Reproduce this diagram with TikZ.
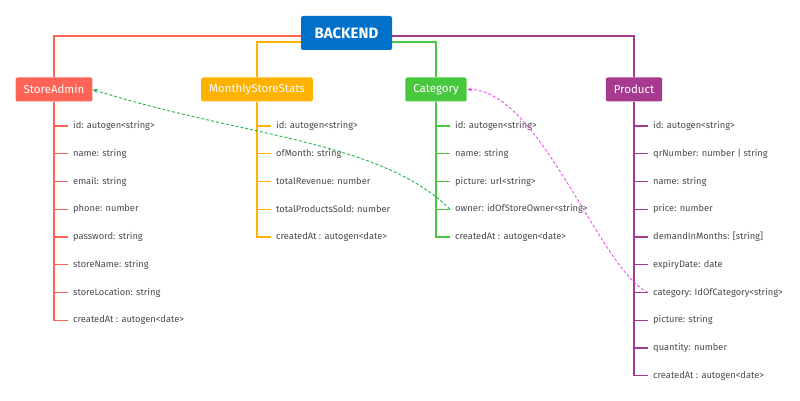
\documentclass[tikz,border=0pt]{standalone}
\usepackage{fontspec}
\setmainfont{Fira Sans}
\usetikzlibrary{positioning, arrows.meta}

\definecolor{backblue}{HTML}{0070C9}
\definecolor{adminred}{HTML}{FF6355}
\definecolor{statsorange}{HTML}{FFB300}
\definecolor{catgreen}{HTML}{47C83E}
\definecolor{prodpurple}{HTML}{A53A8E}
\definecolor{ownergreen}{HTML}{22B24C}
\definecolor{catmagenta}{HTML}{EE4FEE}
\definecolor{textgray}{HTML}{4A4A4A}

\begin{document}
\begin{tikzpicture}[
    x=1pt, y=-1pt,
    entity/.style={rectangle, rounded corners=2pt, minimum height=24pt,
        inner xsep=8pt, text=white, font=\fontsize{11.5}{13}\selectfont},
    field/.style={anchor=west, inner xsep=5pt, inner ysep=1pt, text=textgray,
        font=\fontsize{9.3}{11}\selectfont},
    branch/.style={line width=1.4pt},
    link/.style={dash pattern=on 3pt off 2pt, line width=0.9pt,
        -{Stealth[length=5pt, width=4pt]}}
]
\useasboundingbox (0,0) rectangle (800,401);

% Root node
\node[entity, fill=backblue, minimum width=91pt, minimum height=34pt,
    font=\fontsize{15}{17}\selectfont\bfseries] (backend) at (346.5,33) {BACKEND};

% Entities
\node[entity, fill=adminred] (admin) at (54,89.5) {StoreAdmin};
\node[entity, fill=statsorange] (stats) at (257,89.5) {MonthlyStoreStats};
\node[entity, fill=catgreen] (cat) at (436,89.5) {Category};
\node[entity, fill=prodpurple] (prod) at (634,89.5) {Product};

% Branches from the root
\draw[branch, adminred] ([yshift=-3pt]backend.west) -| (admin.north);
\draw[branch, statsorange] ([yshift=-9pt]backend.west) -| (stats.north);
\draw[branch, catgreen] ([yshift=-9pt]backend.east) -| (cat.north);
\draw[branch, prodpurple] ([yshift=-3pt]backend.east) -| (prod.north);

% Fields
\foreach \txt [count=\i] in {id: autogen<string>, name: string, email: string,
    phone: number, password: string, storeName: string, storeLocation: string,
    createdAt : autogen<date>}
  \node[field] (admin-\i) at (68,{98.25+27.75*\i}) {\txt};
\foreach \txt [count=\i] in {id: autogen<string>, ofMonth: string,
    totalRevenue: number, totalProductsSold: number, createdAt : autogen<date>}
  \node[field] (stats-\i) at (271,{98.25+27.75*\i}) {\txt};
\foreach \txt [count=\i] in {id: autogen<string>, name: string,
    picture: url<string>, owner: idOfStoreOwner<string>, createdAt : autogen<date>}
  \node[field] (cat-\i) at (450,{98.25+27.75*\i}) {\txt};
\foreach \txt [count=\i] in {id: autogen<string>, qrNumber: number | string,
    name: string, price: number, {demandInMonths: [string]}, expiryDate: date,
    category: IdOfCategory<string>, picture: string, quantity: number,
    createdAt : autogen<date>}
  \node[field] (prod-\i) at (648,{98.25+27.75*\i}) {\txt};

\foreach \i in {1,...,8} \draw[branch, adminred] (admin.south) |- (admin-\i.west);
\foreach \i in {1,...,5} \draw[branch, statsorange] (stats.south) |- (stats-\i.west);
\foreach \i in {1,...,5} \draw[branch, catgreen] (cat.south) |- (cat-\i.west);
\foreach \i in {1,...,10} \draw[branch, prodpurple] (prod.south) |- (prod-\i.west);

% References between entities
\draw[link, ownergreen] (cat-4.west) .. controls (380,140) and (243,137) .. (admin.east);
\draw[link, catmagenta] (prod-7.west) .. controls (600,270) and (540,90) .. (cat.east);

\end{tikzpicture}
\end{document}
